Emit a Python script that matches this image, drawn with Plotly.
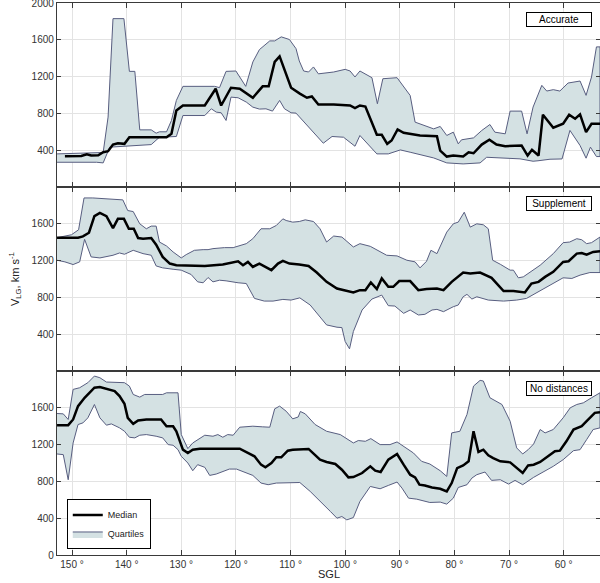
import plotly.graph_objects as go

# ---------------- Accurate (top panel) ----------------
acc_q3_x = [152.74, 144.3, 143.4, 142.5, 140.5, 139.5, 138.5, 137.6, 135.5, 134.6, 134.0, 132.7, 131.8, 130.9,
            129.7, 123.9, 123.0, 121.8, 120.0, 118.2, 116.9, 115.7, 113.8, 112.9, 111.7, 110.2, 109.0, 108.4,
            107.6, 106.7, 105.8, 104.9, 102.1, 100.0, 99.1, 98.2, 97.3, 96.3, 95.1, 94.1, 93.1, 90.5, 88.1,
            87.2, 85.1, 83.8, 82.6, 81.4, 80.2, 79.3, 78.7, 76.5, 75.0, 73.5, 72.6, 70.7, 69.8, 67.7, 66.7,
            65.6, 64.0, 63.1, 61.9, 60.7, 59.2, 57.0, 55.9, 54.9, 54.0, 53.35]
acc_q3 = [360, 375, 760, 1830, 1830, 1257, 1257, 621, 621, 585, 600, 600, 723, 941,
          1094, 1094, 1080, 1257, 1261, 1094, 1359, 1493, 1588, 1588, 1632, 1603, 1504, 1370,
          1261, 1250, 1305, 1230, 1250, 1279, 1261, 1196, 1261, 1230, 1188, 905, 1177, 1188, 995,
          705, 658, 632, 658, 560, 596, 469, 513, 534, 614, 679, 596, 578, 825, 825, 578,
          869, 1105, 1043, 1058, 1043, 1130, 1152, 996, 1196, 1523, 1523]
acc_q1_x = [152.74, 145.5, 144.3, 143.1, 141.3, 135.5, 134.0, 130.9, 129.7, 125.7, 124.5, 123.6, 122.7, 121.8,
            120.9, 119.6, 118.1, 116.9, 115.7, 114.5, 113.3, 112.0, 111.1, 109.9, 109.0, 108.3, 106.4, 104.0,
            102.4, 100.3, 98.2, 97.3, 94.2, 92.1, 89.9, 88.1, 83.8, 81.4, 78.4, 75.3, 74.1, 71.0, 68.0,
            65.6, 64.7, 62.5, 60.3, 58.85, 57.0, 55.9, 55.1, 54.0, 53.35]
acc_q1 = [269, 269, 262, 433, 443, 461, 541, 549, 777, 777, 850, 814, 807, 723,
          977, 970, 923, 868, 847, 850, 825, 941, 850, 807, 803, 760, 632, 476,
          549, 541, 443, 560, 360, 360, 403, 378, 316, 262, 251, 262, 323, 315, 306,
          280, 285, 302, 305, 615, 451, 313, 433, 331, 331]
acc_med_x = [151.3, 148.3, 147.3, 146.5, 145.2, 144.3, 143.4, 142.5, 141.6, 140.4, 139.5, 132.7, 131.8, 130.9,
             129.7, 125.7, 123.7, 122.7, 120.9, 119.3, 116.9, 115.1, 114.0, 112.9, 112.0, 109.9, 108.3, 107.0,
             106.1, 104.9, 102.1, 99.1, 98.2, 97.3, 96.3, 94.2, 93.3, 92.3, 91.5, 90.4, 89.3, 86.3, 83.2,
             82.6, 81.4, 80.2, 78.4, 77.4, 76.5, 75.0, 73.6, 72.3, 70.7, 67.7, 66.6, 65.8, 64.6, 63.8,
             61.9, 60.1, 59.0, 57.9, 57.0, 55.9, 54.9, 53.35]
acc_med = [334, 338, 356, 342, 345, 378, 389, 461, 476, 469, 541, 541, 578, 832,
           886, 886, 1068, 886, 1079, 1068, 970, 1094, 1094, 1359, 1420, 1079, 1015, 970,
           984, 897, 897, 886, 857, 886, 875, 567, 567, 469, 505, 625, 589, 560, 552,
           396, 331, 342, 331, 378, 367, 461, 513, 461, 443, 451, 342, 404, 342, 786,
           644, 688, 786, 742, 789, 596, 688, 688]

# ---------------- Supplement (middle panel) ----------------
sup_q3_x = [152.74, 151.0, 150.1, 148.8, 147.8, 146.2, 140.7, 139.8, 138.8, 137.6, 136.4, 135.5, 134.6, 134.0,
            132.7, 131.5, 130.0, 129.1, 127.6, 126.0, 125.1, 124.2, 122.1, 120.5, 119.6, 118.1, 116.9, 115.4,
            113.8, 112.6, 111.4, 110.8, 109.6, 108.4, 107.3, 105.8, 104.6, 103.4, 102.1, 100.6, 98.5, 97.3,
            95.4, 94.2, 92.4, 90.5, 88.7, 87.2, 86.3, 85.1, 84.3, 83.2, 81.4, 80.2, 79.3, 78.2, 77.1, 75.9,
            74.7, 73.8, 73.0, 71.6, 69.8, 69.2, 68.3, 67.4, 66.2, 64.3, 61.9, 60.1, 58.9, 57.6, 56.7, 55.8,
            54.9, 53.35]
sup_q3 = [1449, 1467, 1481, 1535, 1881, 1881, 1860, 1744, 1733, 1600, 1546, 1575, 1575, 1402,
          1359, 1294, 1229, 1265, 1312, 1319, 1319, 1330, 1341, 1341, 1359, 1384, 1438, 1546,
          1546, 1582, 1654, 1636, 1618, 1625, 1643, 1625, 1546, 1402, 1467, 1456, 1348, 1384,
          1355, 1319, 1258, 1251, 1204, 1186, 1121, 1193, 1312, 1276, 1510, 1600, 1618, 1726, 1564, 1600,
          1589, 1546, 1204, 1160, 1096, 1096, 1013, 1023, 1070, 1150, 1276, 1395, 1402, 1438, 1427, 1384,
          1395, 1456]
sup_q1_x = [152.74, 151.3, 149.8, 148.6, 147.7, 146.5, 144.9, 142.5, 141.3, 140.4, 138.8, 137.0, 135.5, 134.6,
            133.4, 131.5, 130.0, 129.1, 128.2, 127.0, 126.0, 125.1, 124.2, 123.0, 121.8, 119.6, 118.1, 116.6,
            114.8, 113.2, 111.4, 109.9, 108.3, 106.4, 104.6, 103.4, 101.5, 100.6, 100.0, 99.2, 98.5, 96.9,
            95.1, 93.3, 92.1, 90.9, 89.3, 88.1, 86.6, 85.4, 84.1, 83.2, 82.0, 80.2, 79.3, 78.4, 77.7, 76.8,
            75.9, 73.8, 71.0, 68.6, 66.8, 64.3, 61.9, 60.1, 58.5, 57.0, 55.2, 53.35]
sup_q1 = [1204, 1186, 1157, 1186, 1431, 1240, 1229, 1258, 1283, 1269, 1312, 1276, 1258, 1142,
          1121, 1106, 1096, 1070, 1049, 969, 959, 1016, 969, 987, 980, 959, 951, 789,
          760, 760, 778, 771, 795, 717, 591, 501, 476, 472, 321, 241, 429, 663,
          782, 825, 710, 706, 627, 663, 609, 616, 663, 670, 645, 699, 717, 807, 833, 782,
          807, 771, 760, 771, 789, 869, 951, 1013, 1006, 1042, 1070, 1070]
sup_med_x = [152.74, 148.9, 148.0, 146.9, 145.9, 144.9, 143.7, 142.5, 141.6, 140.5, 139.6, 138.7, 137.9, 137.0,
             135.5, 134.6, 133.4, 132.1, 130.9, 125.7, 122.4, 120.5, 119.6, 118.7, 117.8, 116.9, 115.7, 113.5,
             112.3, 111.4, 110.2, 108.4, 106.7, 105.2, 103.4, 101.5, 100.3, 98.5, 97.3, 96.3, 95.3, 94.2,
             93.3, 92.1, 91.2, 90.1, 88.1, 86.6, 85.1, 83.2, 82.0, 80.5, 78.4, 77.1, 75.3, 73.2, 71.0, 69.2,
             67.1, 65.9, 64.6, 63.4, 61.9, 60.1, 59.1, 57.6, 56.7, 55.8, 54.6, 53.35]
sup_med = [1449, 1449, 1463, 1503, 1683, 1719, 1683, 1553, 1654, 1654, 1546, 1546, 1445, 1438,
           1445, 1373, 1240, 1168, 1150, 1142, 1157, 1186, 1193, 1150, 1186, 1132, 1168, 1096,
           1168, 1197, 1168, 1157, 1142, 1070, 969, 897, 879, 854, 879, 879, 962, 890,
           1006, 915, 915, 977, 977, 879, 890, 897, 879, 969, 1070, 1060, 1070, 1013, 869, 869,
           854, 951, 969, 1023, 1078, 1186, 1193, 1276, 1283, 1265, 1294, 1301]

# ---------------- No distances (bottom panel) ----------------
nod_q3_x = [152.74, 151.6, 150.7, 149.8, 148.6, 147.1, 145.9, 144.9, 143.7, 140.4, 139.5, 138.8, 137.6, 136.7,
            133.4, 132.7, 130.6, 130.0, 128.8, 127.9, 125.7, 124.2, 123.3, 122.4, 121.5, 120.5, 119.3, 116.9,
            115.1, 113.8, 112.9, 112.0, 110.8, 109.6, 108.6, 108.2, 107.3, 105.5, 103.4, 100.9, 98.5, 97.6,
            96.3, 95.3, 93.6, 91.8, 90.5, 89.3, 87.5, 86.0, 84.5, 82.6, 81.4, 80.5, 79.0, 77.7, 76.5, 75.3,
            74.7, 73.5, 71.3, 69.8, 68.6, 67.5, 66.5, 65.5, 64.3, 63.4, 61.9, 60.1, 58.8, 57.6, 56.4, 54.9,
            53.35]
nod_q3 = [1538, 1534, 1473, 1800, 1818, 1873, 1945, 1927, 1880, 1873, 1836, 1745, 1716, 1745,
          1745, 1763, 1763, 1309, 1156, 1218, 1302, 1291, 1309, 1280, 1309, 1302, 1389, 1400,
          1393, 1389, 1589, 1618, 1563, 1480, 1500, 1560, 1534, 1418, 1345, 1309, 1218, 1244,
          1236, 1265, 1200, 1200, 1229, 1182, 1109, 1018, 989, 916, 854, 1327, 1345, 1527, 1836, 1898,
          1891, 1709, 1636, 1454, 1164, 1098, 1145, 1207, 1364, 1327, 1364, 1491, 1600, 1636, 1654, 1709,
          1763]
nod_q1_x = [152.74, 151.6, 150.7, 149.8, 148.9, 148.0, 147.1, 145.9, 144.9, 143.7, 142.8, 141.3, 140.4, 139.5,
            138.5, 137.6, 136.4, 134.6, 133.4, 132.4, 131.5, 130.6, 130.0, 128.8, 127.9, 127.0, 125.7, 124.8,
            123.6, 121.2, 119.9, 118.7, 116.9, 115.4, 114.1, 112.6, 110.8, 108.3, 106.4, 104.6, 102.7, 101.5,
            100.6, 99.7, 98.5, 97.3, 95.4, 93.6, 92.1, 90.5, 89.6, 88.4, 86.9, 84.5, 82.6, 81.4, 80.2, 79.3,
            77.7, 76.8, 75.9, 74.4, 73.2, 71.6, 70.1, 68.9, 67.5, 65.5, 63.7, 61.9, 60.1, 58.2, 57.0, 55.8,
            54.6, 53.35]
nod_q1 = [1098, 1091, 818, 1218, 1418, 1436, 1491, 1636, 1491, 1411, 1425, 1382, 1345, 1280,
          1273, 1302, 1309, 1291, 1273, 1200, 1193, 1145, 1073, 1000, 916, 982, 953, 865,
          880, 934, 934, 909, 865, 782, 764, 782, 782, 788, 691, 582, 473, 400,
          418, 382, 407, 582, 745, 720, 756, 793, 727, 618, 607, 571, 575, 553, 618, 734,
          764, 836, 873, 902, 811, 818, 771, 811, 764, 844, 902, 964, 1036, 1134, 1145, 1254,
          1364, 1382]
nod_med_x = [152.74, 150.7, 149.8, 148.9, 147.7, 146.8, 145.9, 144.9, 144.0, 143.1, 142.2, 141.3, 140.4, 139.8,
             138.8, 137.9, 136.4, 133.7, 132.7, 131.5, 130.9, 129.7, 128.8, 127.9, 126.6, 119.3, 117.8, 116.6,
             115.4, 114.6, 113.5, 112.6, 111.7, 110.5, 109.6, 108.4, 106.7, 104.6, 103.4, 101.8, 100.6, 99.4,
             98.5, 96.9, 95.4, 94.5, 93.5, 92.1, 90.5, 89.3, 88.1, 87.2, 86.4, 85.4, 84.1, 82.6, 81.4, 80.5,
             79.5, 78.4, 77.4, 76.5, 75.6, 74.7, 73.8, 72.9, 71.6, 69.8, 68.6, 67.5, 66.5, 65.5, 64.3, 62.8,
             61.6, 60.7, 59.5, 58.2, 56.7, 55.8, 54.3, 53.35]
nod_med = [1411, 1411, 1473, 1618, 1709, 1763, 1818, 1825, 1811, 1789, 1782, 1727, 1643, 1491,
           1425, 1462, 1473, 1473, 1400, 1400, 1345, 1145, 1109, 1145, 1156, 1156, 1109, 1073,
           982, 953, 1000, 1062, 1062, 1134, 1145, 1145, 1153, 1036, 1011, 989, 927, 844,
           847, 891, 964, 916, 902, 1036, 1098, 982, 873, 844, 764, 756, 734, 720, 691, 782,
           945, 974, 1018, 1345, 1120, 1145, 1084, 1054, 1018, 1007, 945, 891, 974, 982, 1011, 1073,
           1127, 1134, 1236, 1364, 1400, 1454, 1545, 1553]

panel_names = ["Accurate", "Supplement", "No distances"]
x_tick_vals = [150, 140, 130, 120, 110, 100, 90, 80, 70, 60]
x_tick_text = ["150 °", "140 °", "130 °", "120 °", "110 °", "100 °", "90 °", "80 °", "70 °", "60 °"]
y_ticks_top = [400, 800, 1200, 1600, 2000]
y_ticks_mid = [400, 800, 1200, 1600]
y_ticks_bot = [0, 400, 800, 1200, 1600]

FILL = "rgb(212,225,227)"
EDGE = "rgb(88,94,128)"
FONT = "Liberation Sans, Arial, sans-serif"

panels = [
    (acc_q3_x, acc_q3, acc_q1_x, acc_q1, acc_med_x, acc_med, "x3", "y3"),
    (sup_q3_x, sup_q3, sup_q1_x, sup_q1, sup_med_x, sup_med, "x2", "y2"),
    (nod_q3_x, nod_q3, nod_q1_x, nod_q1, nod_med_x, nod_med, "x", "y"),
]

fig = go.Figure()
for i, (q3x, q3, q1x, q1, mx, m, xa, ya) in enumerate(panels):
    show = (i == 2)
    fig.add_trace(go.Scatter(
        x=list(q3x) + list(q1x)[::-1], y=list(q3) + list(q1)[::-1],
        mode="lines", fill="toself", fillcolor=FILL,
        line=dict(color=EDGE, width=1), name="Quartiles",
        showlegend=show, legendrank=2, xaxis=xa, yaxis=ya, hoverinfo="skip"))
    fig.add_trace(go.Scatter(
        x=mx, y=m, mode="lines", line=dict(color="black", width=2.5),
        name="Median", showlegend=show, legendrank=1, xaxis=xa, yaxis=ya))

axis_common = dict(showline=True, linecolor="#3a3a3a", linewidth=1.3, mirror="allticks",
                   showgrid=True, gridcolor="#e3e3e3", gridwidth=1, zeroline=False,
                   automargin=False, ticklabeloverflow="allow",
                   tickfont=dict(size=10, color="#333333", family=FONT))
xr = [152.75, 53.35]
fig.update_layout(
    width=600, height=583,
    margin=dict(l=57, r=0, t=3, b=28, autoexpand=False),
    paper_bgcolor="white", plot_bgcolor="white",
    font=dict(family=FONT, size=10, color="#222222"),
    xaxis=dict(axis_common, range=xr, tickvals=x_tick_vals, ticktext=x_tick_text,
               ticks="inside", ticklen=5, tickcolor="#3a3a3a", anchor="y"),
    xaxis2=dict(axis_common, range=xr, tickvals=x_tick_vals, showticklabels=False,
                ticks="inside", ticklen=5, tickcolor="#3a3a3a", anchor="y2", matches="x"),
    xaxis3=dict(axis_common, range=xr, tickvals=x_tick_vals, showticklabels=False,
                ticks="inside", ticklen=5, tickcolor="#3a3a3a", anchor="y3", matches="x"),
    yaxis=dict(axis_common, domain=[0, 1/3], range=[0, 2000], tickvals=y_ticks_bot,
               ticks="inside", ticklen=4, tickcolor="#3a3a3a", anchor="x"),
    yaxis2=dict(axis_common, domain=[1/3, 2/3], range=[0, 2000], tickvals=y_ticks_mid,
                ticks="inside", ticklen=4, tickcolor="#3a3a3a", anchor="x2"),
    yaxis3=dict(axis_common, domain=[2/3, 1], range=[0, 2000], tickvals=y_ticks_top,
                ticks="inside", ticklen=4, tickcolor="#3a3a3a", anchor="x3"),
    legend=dict(x=0.018, y=0.01, xanchor="left", yanchor="bottom", bgcolor="white",
                bordercolor="black", borderwidth=1, font=dict(size=9, family=FONT),
                tracegroupgap=0, itemwidth=30),
)

label_y = [0.9698, 0.6368, 0.3025]
for name, yy in zip(panel_names, label_y):
    fig.add_annotation(text=name, xref="paper", yref="paper", x=0.924, y=yy,
                       xanchor="center", yanchor="middle", showarrow=False,
                       font=dict(size=10, family=FONT, color="black"),
                       bgcolor="white", bordercolor="black", borderwidth=1,
                       borderpad=1, width=62)

fig.add_annotation(text="V<sub>LG</sub>, km s<sup>-1</sup>", xref="paper", yref="paper",
                   x=-0.0773, y=0.5, xanchor="center", yanchor="middle", textangle=-90,
                   showarrow=False, font=dict(size=11, family=FONT, color="#222222"))

fig.add_annotation(text="SGL", xref="paper", yref="paper", x=0.5, y=-0.0344,
                   xanchor="center", yanchor="middle", showarrow=False,
                   font=dict(size=11, family=FONT, color="#222222"))

fig.write_html("out.html", config={"displayModeBar": False},
               post_script="document.body.style.margin='0';document.body.style.overflow='hidden';")
